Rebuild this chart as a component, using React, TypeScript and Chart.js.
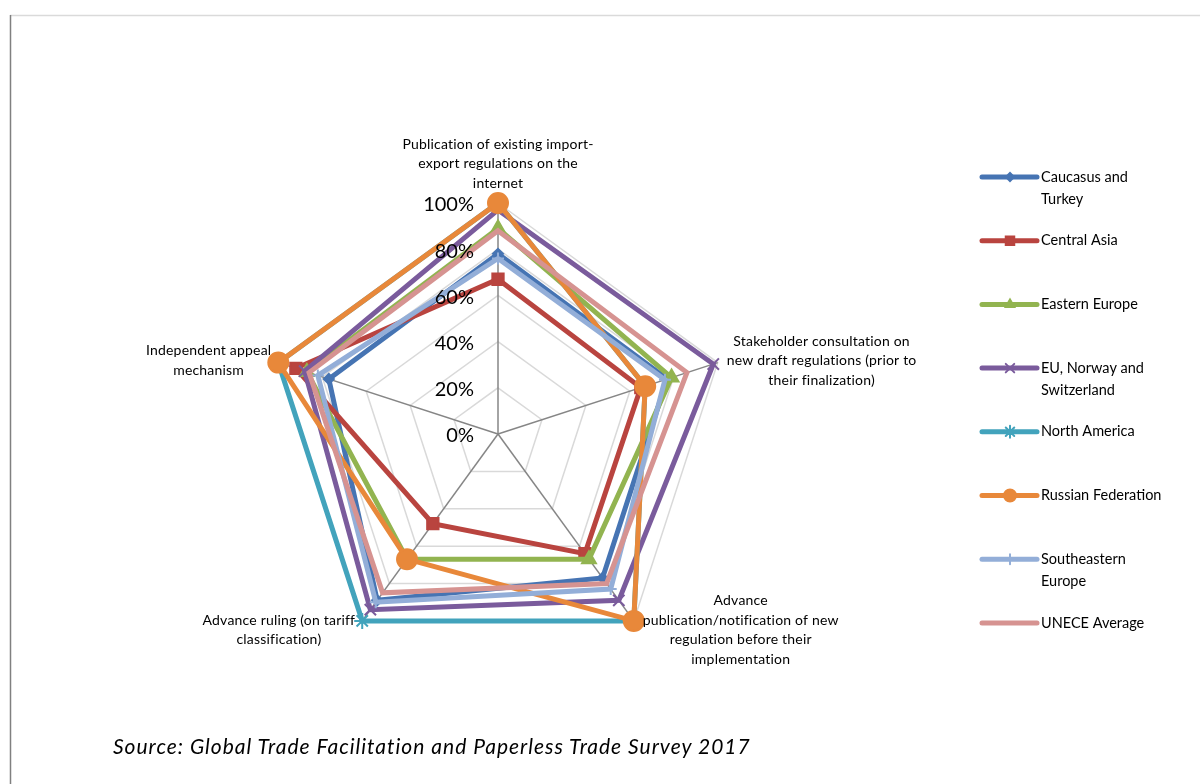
import React, { useEffect, useRef } from "react";
import { Chart, registerables } from "chart.js";
import { drawPoint } from "chart.js/helpers";

Chart.register(...registerables);

// ---------- data ----------
const categories: string[][] = [
  ["Publication of existing import-", "export regulations on the", "internet"],
  ["Stakeholder consultation on", "new draft regulations (prior to", "their finalization)"],
  ["Advance", "publication/notification of new", "regulation before their", "implementation"],
  ["Advance ruling (on tariff", "classification)"],
  ["Independent appeal", "mechanism"],
];

const seriesNames = [
  "Caucasus and Turkey",
  "Central Asia",
  "Eastern Europe",
  "EU, Norway and Switzerland",
  "North America",
  "Russian Federation",
  "Southeastern Europe",
  "UNECE Average",
];

const legendLines: string[][] = [
  ["Caucasus and", "Turkey"],
  ["Central Asia"],
  ["Eastern Europe"],
  ["EU, Norway and", "Switzerland"],
  ["North America"],
  ["Russian Federation"],
  ["Southeastern", "Europe"],
  ["UNECE Average"],
];

const caucasusTurkey = [0.78, 0.77, 0.77, 0.89, 0.77];
const centralAsia = [0.67, 0.65, 0.64, 0.48, 0.92];
const easternEurope = [0.89, 0.79, 0.67, 0.67, 0.87];
const euNorwaySwitzerland = [0.97, 0.98, 0.89, 0.94, 0.88];
const northAmerica = [1.0, 0.67, 1.0, 1.0, 1.0];
const russianFederation = [1.0, 0.67, 1.0, 0.67, 1.0];
const southeasternEurope = [0.76, 0.76, 0.83, 0.9, 0.82];
const unceAverage = [0.88, 0.86, 0.8, 0.85, 0.86];

const seriesValues = [
  caucasusTurkey,
  centralAsia,
  easternEurope,
  euNorwaySwitzerland,
  northAmerica,
  russianFederation,
  southeasternEurope,
  unceAverage,
];

const tickValues = [0, 0.2, 0.4, 0.6, 0.8, 1.0];
const tickLabels = ["0%", "20%", "40%", "60%", "80%", "100%"];

const sourceText = "Source: Global Trade Facilitation and Paperless Trade Survey 2017";

// ---------- styles ----------
const colors = ["#4674B3", "#B9443F", "#92B450", "#7A5B9C", "#42A3BC", "#E8883A", "#93AED8", "#D69391"];
const pointStyles: any[] = ["rectRot", "rect", "triangle", "crossRot", "star", "circle", "cross", "line"];
const pointRadii = [5, 8, 8, 8, 8, 10, 6, 0];
const legendRadii = [4, 6, 5, 6, 6, 6, 5, 0];

const FONT = "Lato, 'Open Sans', sans-serif";

const framePlugin = {
  id: "frame",
  beforeDraw(chart: any) {
    const ctx = chart.ctx;
    ctx.save();
    ctx.fillStyle = "#ffffff";
    ctx.fillRect(0, 0, chart.width, chart.height);
    ctx.strokeStyle = "#DADADA";
    ctx.lineWidth = 1.5;
    ctx.beginPath();
    ctx.moveTo(10, 15.5);
    ctx.lineTo(chart.width, 15.5);
    ctx.stroke();
    ctx.strokeStyle = "#808080";
    ctx.beginPath();
    ctx.moveTo(10.5, 15);
    ctx.lineTo(10.5, chart.height);
    ctx.stroke();
    ctx.restore();
  },
};

const textPlugin = {
  id: "texts",
  afterDatasetsDraw(chart: any) {
    const ctx = chart.ctx;
    const r = chart.scales.r;
    ctx.save();
    // tick labels
    ctx.font = `20px ${FONT}`;
    ctx.fillStyle = "#000";
    ctx.textAlign = "right";
    ctx.textBaseline = "middle";
    tickValues.forEach((v, i) => {
      const d = r.getDistanceFromCenterForValue(v);
      ctx.fillText(tickLabels[i], r.xCenter - 24, r.yCenter - d + 2);
    });
    // point labels
    ctx.font = `14px ${FONT}`;
    (ctx as any).letterSpacing = "0.2px";
    ctx.textAlign = "center";
    const lh = 19.6;
    categories.forEach((lines, i) => {
      const p = r.getPointPosition(i, r.drawingArea);
      const w = Math.max(...lines.map((l) => ctx.measureText(l).width));
      const h = lines.length * lh;
      const c = Math.cos(p.angle);
      const s = Math.sin(p.angle);
      let cx: number;
      let cy: number;
      if (Math.abs(c) < 0.01) {
        cx = p.x;
        cy = p.y - 10 - h / 2;
      } else {
        cx = c > 0 ? p.x + 9 + w / 2 : p.x - 7 - w / 2;
        cy = s < 0 ? p.y - 2 : p.y + 9;
      }
      lines.forEach((t, j) => {
        ctx.fillText(t, cx, cy - h / 2 + lh * (j + 0.5));
      });
    });
    // legend
    ctx.font = `14.5px ${FONT}`;
    (ctx as any).letterSpacing = "0px";
    ctx.textAlign = "left";
    legendLines.forEach((lines, i) => {
      const y = 177 + i * 63.7;
      ctx.strokeStyle = colors[i];
      ctx.lineWidth = 5;
      ctx.lineCap = "round";
      ctx.beginPath();
      ctx.moveTo(982, y);
      ctx.lineTo(1037, y);
      ctx.stroke();
      if (legendRadii[i] > 0) {
        ctx.fillStyle = colors[i];
        ctx.strokeStyle = colors[i];
        ctx.lineWidth = 2;
        drawPoint(ctx, { pointStyle: pointStyles[i], radius: legendRadii[i], rotation: 0, borderWidth: 2 } as any, 1010, y);
      }
      ctx.fillStyle = "#000";
      lines.forEach((t, j) => ctx.fillText(t, 1041, y + j * 22.5));
    });
    ctx.restore();
  },
};

export default function App() {
  const ref = useRef<HTMLCanvasElement | null>(null);
  useEffect(() => {
    const canvas = ref.current;
    if (!canvas) return;
    const chart = new Chart(canvas, {
      type: "radar",
      data: {
        labels: categories,
        datasets: seriesValues.map((vals, i) => ({
          label: seriesNames[i],
          data: vals,
          order: seriesValues.length - i,
          borderColor: colors[i],
          backgroundColor: colors[i],
          borderWidth: 5,
          fill: false,
          pointStyle: pointStyles[i],
          pointRadius: pointRadii[i],
          pointHoverRadius: pointRadii[i],
          pointBackgroundColor: colors[i],
          pointBorderColor: colors[i],
          pointBorderWidth: 2,
        })),
      },
      options: {
        responsive: false,
        animation: false,
        devicePixelRatio: 1,
        layout: { padding: { left: 267, top: 203, right: 471, bottom: 119 } },
        plugins: { legend: { display: false }, tooltip: { enabled: false } },
        scales: {
          r: {
            min: 0,
            max: 1,
            ticks: { display: false, stepSize: 0.2 },
            grid: { color: "#D9D9D9", lineWidth: 1.5 },
            angleLines: { color: "#868686", lineWidth: 1.5 },
            pointLabels: { display: false },
          },
        },
      },
      plugins: [framePlugin, textPlugin],
    });
    return () => chart.destroy();
  }, []);

  return (
    <div style={{ position: "fixed", left: 0, top: 0, width: 1200, height: 784, background: "#fff" }}>
      <canvas ref={ref} width={1200} height={784} style={{ width: 1200, height: 784, display: "block" }} />
      <div
        style={{
          position: "absolute",
          left: 113,
          top: 733,
          fontFamily: FONT,
          fontStyle: "italic",
          fontSize: 21,
          color: "#000",
          whiteSpace: "nowrap",
          letterSpacing: "1px",
        }}
      >
        {sourceText}
      </div>
    </div>
  );
}
